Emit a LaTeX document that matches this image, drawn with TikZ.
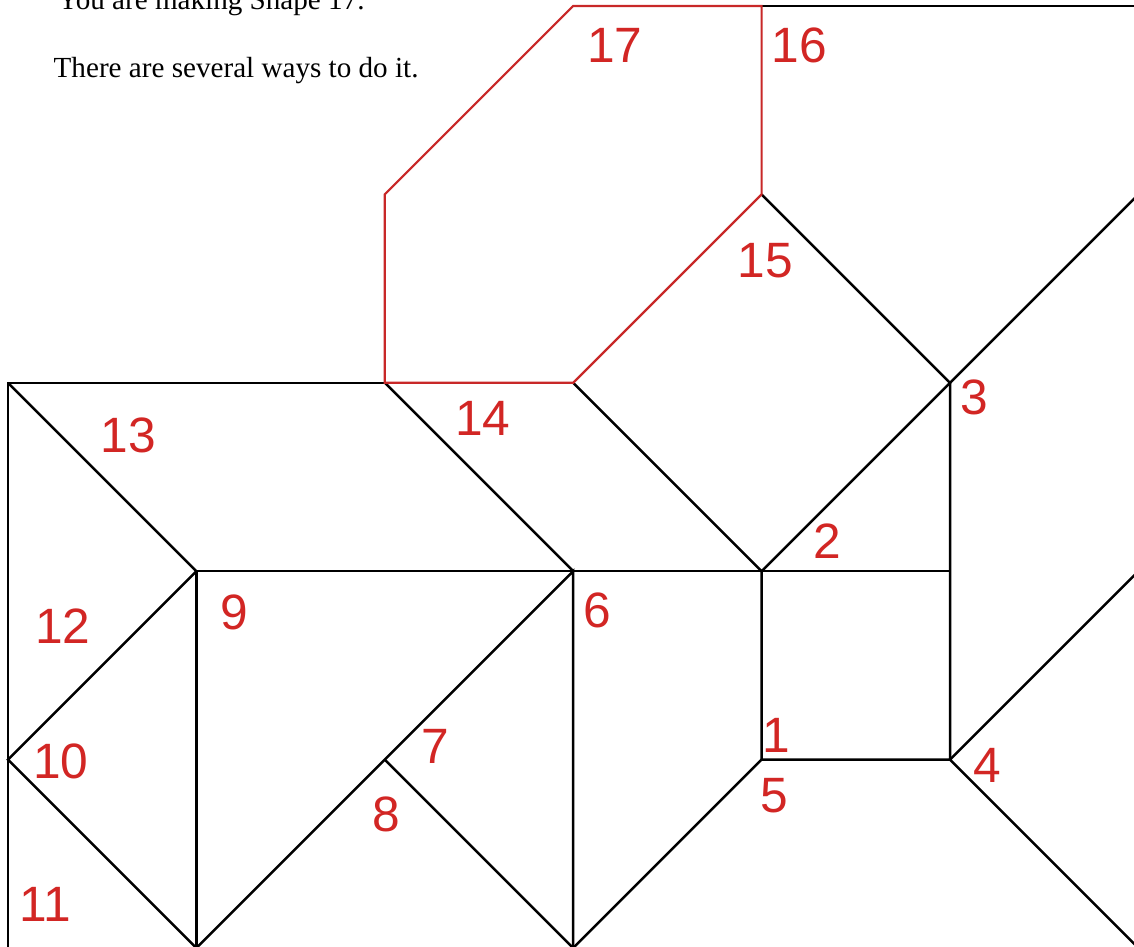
\documentclass[tikz,border=0pt]{standalone}
\usepackage{fontspec}
\setmainfont{Liberation Serif}
\newfontfamily\numfont{Liberation Sans}
\definecolor{numred}{RGB}{210,38,36}
\definecolor{linered}{RGB}{200,40,40}

\begin{document}
\begin{tikzpicture}[x=2cm, y=2cm,
    edge/.style={line width=0.75pt, black, line join=miter},
    redge/.style={line width=0.65pt, linered, line join=miter},
    num/.style={text=numred, font=\numfont\fontsize{15}{15}\selectfont, inner sep=0pt}]
        \useasboundingbox (-0.0425,0.0106) rectangle (5.9766,5.0318);
        \clip (-0.0425,0.0106) rectangle (5.9766,5.0318);

        % Corners
        \coordinate (a0) at (0,0);   \coordinate (a1) at (0,1);   \coordinate (a3) at (0,3);
        \coordinate (b0) at (1,0);   \coordinate (b2) at (1,2);
        \coordinate (c1) at (2,1);   \coordinate (c3) at (2,3);   \coordinate (c4) at (2,4);
        \coordinate (d0) at (3,0);   \coordinate (d2) at (3,2);   \coordinate (d3) at (3,3);   \coordinate (d5) at (3,5);
        \coordinate (e1) at (4,1);   \coordinate (e2) at (4,2);   \coordinate (e4) at (4,4);   \coordinate (e5) at (4,5);
        \coordinate (f1) at (5,1);   \coordinate (f2) at (5,2);   \coordinate (f3) at (5,3);
        \coordinate (g0) at (6,0);   \coordinate (g2) at (6,2);   \coordinate (g4) at (6,4);   \coordinate (g5) at (6,5);

        % Text
        \node[anchor=base west, inner sep=0pt, font=\fontsize{8.8}{10}\selectfont] (task) at (0.260,4.979) {You are making Shape 17.};
        \node[anchor=base west, inner sep=0pt, font=\fontsize{8.8}{10}\selectfont] (hint) at (0.239,4.623) {There are several ways to do it.};

        % Pieces
        \draw[edge] (a0) -- (a3) -- (c3);
        \draw[edge] (a3) -- (b2) -- (a1) -- (b0);
        \draw[edge] (b0) -- (b2) -- (e2) -- (f2);
        \draw[edge] (b0) -- (d2) -- (d0);
        \draw[edge] (c1) -- (d0);
        \draw[edge] (c3) -- (d2);
        \draw[edge] (d3) -- (e2) -- (f3) -- (e4);
        \draw[edge] (e2) -- (e1) -- (f1) -- (f3) -- (g4);
        \draw[edge] (d0) -- (e1);
        \draw[edge] (g2) -- (f1) -- (g0);
        \draw[edge] (e5) -- (g5);

        % Shape 17
        \draw[redge] (c3) -- (d3) -- (e4) -- (e5) -- (d5) -- (c4) -- cycle;

        % Numbers
        \node[num] (n1)  at (4.08,1.13) {1};
        \node[num] (n2)  at (4.35,2.16) {2};
        \node[num] (n3)  at (5.13,2.92) {3};
        \node[num] (n4)  at (5.20,0.97) {4};
        \node[num] (n5)  at (4.07,0.81) {5};
        \node[num] (n6)  at (3.13,1.79) {6};
        \node[num] (n7)  at (2.27,1.07) {7};
        \node[num] (n8)  at (2.01,0.71) {8};
        \node[num] (n9)  at (1.20,1.78) {9};
        \node[num] (n10) at (0.28,0.99) {10};
        \node[num] (n11) at (0.20,0.23) {11};
        \node[num] (n12) at (0.29,1.71) {12};
        \node[num] (n13) at (0.64,2.72) {13};
        \node[num] (n14) at (2.52,2.81) {14};
        \node[num] (n15) at (4.02,3.65) {15};
        \node[num] (n16) at (4.20,4.79) {16};
        \node[num] (n17) at (3.22,4.79) {17};
\end{tikzpicture}
\end{document}
